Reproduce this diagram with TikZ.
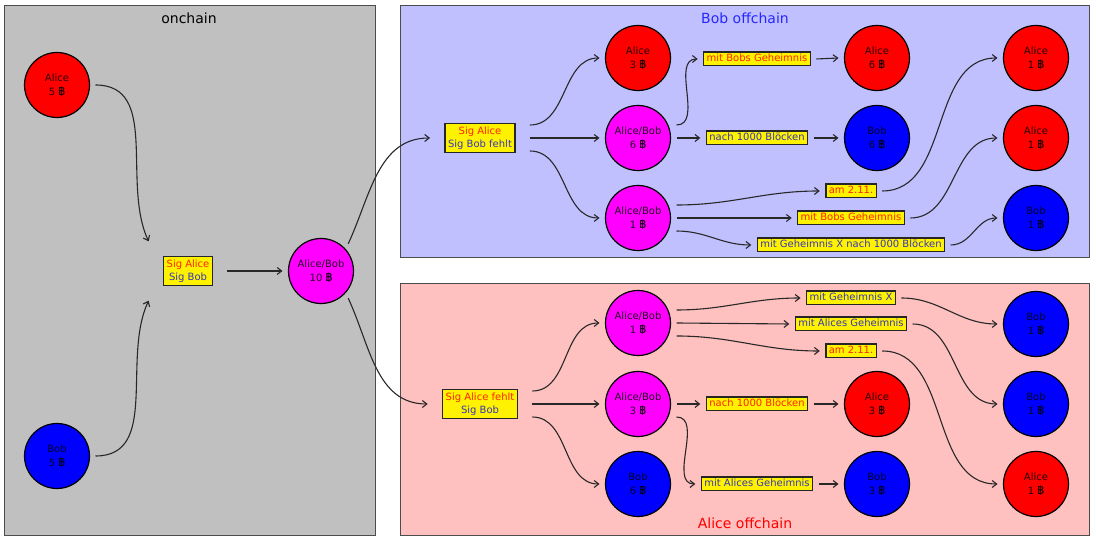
\documentclass[tikz,border=0pt]{standalone}
\usepackage{fontspec}
\setmainfont{DejaVu Sans}
\newfontfamily\thaifont[Script=Thai]{Loma}
\newcommand{\baht}{{\thaifont\bfseries\fontsize{11}{13.5}\selectfont ฿}}
\usetikzlibrary{arrows.meta}
\definecolor{onchaingray}{RGB}{192,192,192}
\definecolor{bobpanel}{RGB}{192,192,255}
\definecolor{alicepanel}{RGB}{255,192,192}
\definecolor{alicetext}{RGB}{255,36,0}
\definecolor{bobtext}{RGB}{52,52,190}
\definecolor{jointfill}{RGB}{255,0,255}
\definecolor{edgegray}{RGB}{40,40,40}
\tikzset{
  panel/.style={
    rectangle, draw=black!70, line width=1pt
  },
  coin/.style={
    circle, draw=black, line width=1.2pt, minimum size=65pt, inner sep=0pt,
    outer sep=6pt, align=center, text opacity=0.85,
    font=\fontsize{10}{13.5}\selectfont
  },
  alicecoin/.style={coin, fill=red},
  bobcoin/.style={coin, fill=blue},
  jointcoin/.style={coin, fill=jointfill},
  sigbox/.style={
    rectangle, draw=black!85, line width=1.5pt, fill=yellow,
    inner xsep=3pt, inner ysep=3pt, outer sep=15pt, align=center,
    font=\fontsize{10}{13.5}\selectfont
  },
  cond/.style={
    rectangle, draw=black!85, line width=1.5pt, fill=yellow,
    inner xsep=3pt, inner ysep=1.5pt, outer sep=6pt,
    text height=8pt, text depth=2.5pt,
    font=\fontsize{10}{12}\selectfont
  },
  arrow/.style={
    -{Straight Barb[length=4.5pt,width=7pt]}, line width=1.1pt, color=edgegray
  }
}

\begin{document}
\begin{tikzpicture}[x=1pt, y=1pt]
\useasboundingbox (0,0) rectangle (1096,540);

% panels
\draw[panel, fill=onchaingray] (4,4) rectangle (375,534);
\draw[panel, fill=bobpanel] (400,282) rectangle (1089,534);
\draw[panel, fill=alicepanel] (400,4) rectangle (1089,256);
\node[font=\fontsize{14}{16}\selectfont] (ontitle) at (189,522) {onchain};
\node[font=\fontsize{14}{16}\selectfont, text=blue!85!white] (bobtitle) at (745,522) {Bob offchain};
\node[font=\fontsize{14}{16}\selectfont, text=red] (alicetitle) at (745,17) {Alice offchain};

% onchain
\node[alicecoin] (alice5) at (57,455) {Alice\\5 \baht};
\node[bobcoin] (bob5) at (57,84) {Bob\\5 \baht};
\node[sigbox] (sig) at (188,269) {\textcolor{alicetext}{Sig Alice}\\\textcolor{bobtext}{Sig Bob}};
\node[jointcoin] (ab10) at (321,269) {Alice/Bob\\10 \baht};

\draw[arrow] (alice5.east) to[out=0, in=115] (sig.north west);
\draw[arrow] (bob5.east) to[out=0, in=245] (sig.south west);
\draw[arrow] (sig.east) -- (ab10.west);

% Bob offchain
\node[sigbox] (bsig) at (480,402) {\textcolor{alicetext}{Sig Alice}\\\textcolor{bobtext}{Sig Bob fehlt}};
\node[alicecoin] (ba3) at (638,482) {Alice\\3 \baht};
\node[jointcoin] (bab6) at (638,402) {Alice/Bob\\6 \baht};
\node[jointcoin] (bab1) at (638,322) {Alice/Bob\\1 \baht};
\node[cond, text=alicetext] (bcond1) at (757,481) {mit Bobs Geheimnis};
\node[cond, text=bobtext] (bcond2) at (757,402) {nach 1000 Blöcken};
\node[alicecoin] (ba6) at (877,482) {Alice\\6 \baht};
\node[bobcoin] (bb6) at (877,402) {Bob\\6 \baht};
\node[cond, text=alicetext] (bcond3) at (851,349) {am 2.11.};
\node[cond, text=alicetext] (bcond4) at (851,322) {mit Bobs Geheimnis};
\node[cond, text=bobtext] (bcond5) at (851,295) {mit Geheimnis X nach 1000 Blöcken};
\node[alicecoin] (ba1a) at (1036,482) {Alice\\1 \baht};
\node[alicecoin] (ba1b) at (1036,402) {Alice\\1 \baht};
\node[bobcoin] (bb1) at (1036,322) {Bob\\1 \baht};

\draw[arrow] (ab10.north east) to[out=65, in=180] (bsig.west);
\draw[arrow] ([yshift=13pt]bsig.east) to[out=0, in=180] (ba3.west);
\draw[arrow] (bsig.east) -- (bab6.west);
\draw[arrow] ([yshift=-13pt]bsig.east) to[out=0, in=180] (bab1.west);
\draw[arrow] ([yshift=13pt]bab6.east) to[out=0, in=180] (bcond1.west);
\draw[arrow] (bab6.east) -- (bcond2.west);
\draw[arrow] (bcond1.east) -- (ba6.west);
\draw[arrow] (bcond2.east) -- (bb6.west);
\draw[arrow] ([yshift=13pt]bab1.east) to[out=0, in=180] (bcond3.west);
\draw[arrow] (bab1.east) -- (bcond4.west);
\draw[arrow] ([yshift=-13pt]bab1.east) to[out=0, in=180] (bcond5.west);
\draw[arrow] (bcond3.east) to[out=0, in=180] (ba1a.west);
\draw[arrow] (bcond4.east) to[out=0, in=180] (ba1b.west);
\draw[arrow] (bcond5.east) to[out=0, in=180] (bb1.west);

% Alice offchain
\node[sigbox] (asig) at (480,136) {\textcolor{alicetext}{Sig Alice fehlt}\\\textcolor{bobtext}{Sig Bob}};
\node[jointcoin] (aab1) at (638,217) {Alice/Bob\\1 \baht};
\node[jointcoin] (aab3) at (638,136) {Alice/Bob\\3 \baht};
\node[bobcoin] (ab6) at (638,56) {Bob\\6 \baht};
\node[cond, text=bobtext] (acond1) at (851,242) {mit Geheimnis X};
\node[cond, text=bobtext] (acond2) at (851,216) {mit Alices Geheimnis};
\node[cond, text=alicetext] (acond3) at (851,189) {am 2.11.};
\node[cond, text=alicetext] (acond4) at (757,136) {nach 1000 Blöcken};
\node[cond, text=bobtext] (acond5) at (757,56) {mit Alices Geheimnis};
\node[alicecoin] (aa3) at (877,136) {Alice\\3 \baht};
\node[bobcoin] (ab3) at (877,56) {Bob\\3 \baht};
\node[bobcoin] (ab1a) at (1036,216) {Bob\\1 \baht};
\node[bobcoin] (ab1b) at (1036,136) {Bob\\1 \baht};
\node[alicecoin] (aa1) at (1036,56) {Alice\\1 \baht};

\draw[arrow] (ab10.south east) to[out=-65, in=180] (asig.west);
\draw[arrow] ([yshift=13pt]asig.east) to[out=0, in=180] (aab1.west);
\draw[arrow] (asig.east) -- (aab3.west);
\draw[arrow] ([yshift=-13pt]asig.east) to[out=0, in=180] (ab6.west);
\draw[arrow] ([yshift=13pt]aab1.east) to[out=0, in=180] (acond1.west);
\draw[arrow] (aab1.east) -- (acond2.west);
\draw[arrow] ([yshift=-13pt]aab1.east) to[out=0, in=180] (acond3.west);
\draw[arrow] (aab3.east) -- (acond4.west);
\draw[arrow] ([yshift=-13pt]aab3.east) to[out=0, in=180] (acond5.west);
\draw[arrow] (acond4.east) -- (aa3.west);
\draw[arrow] (acond5.east) -- (ab3.west);
\draw[arrow] (acond1.east) to[out=0, in=180] (ab1a.west);
\draw[arrow] (acond2.east) to[out=0, in=180] (ab1b.west);
\draw[arrow] (acond3.east) to[out=0, in=180] (aa1.west);
\end{tikzpicture}
\end{document}
